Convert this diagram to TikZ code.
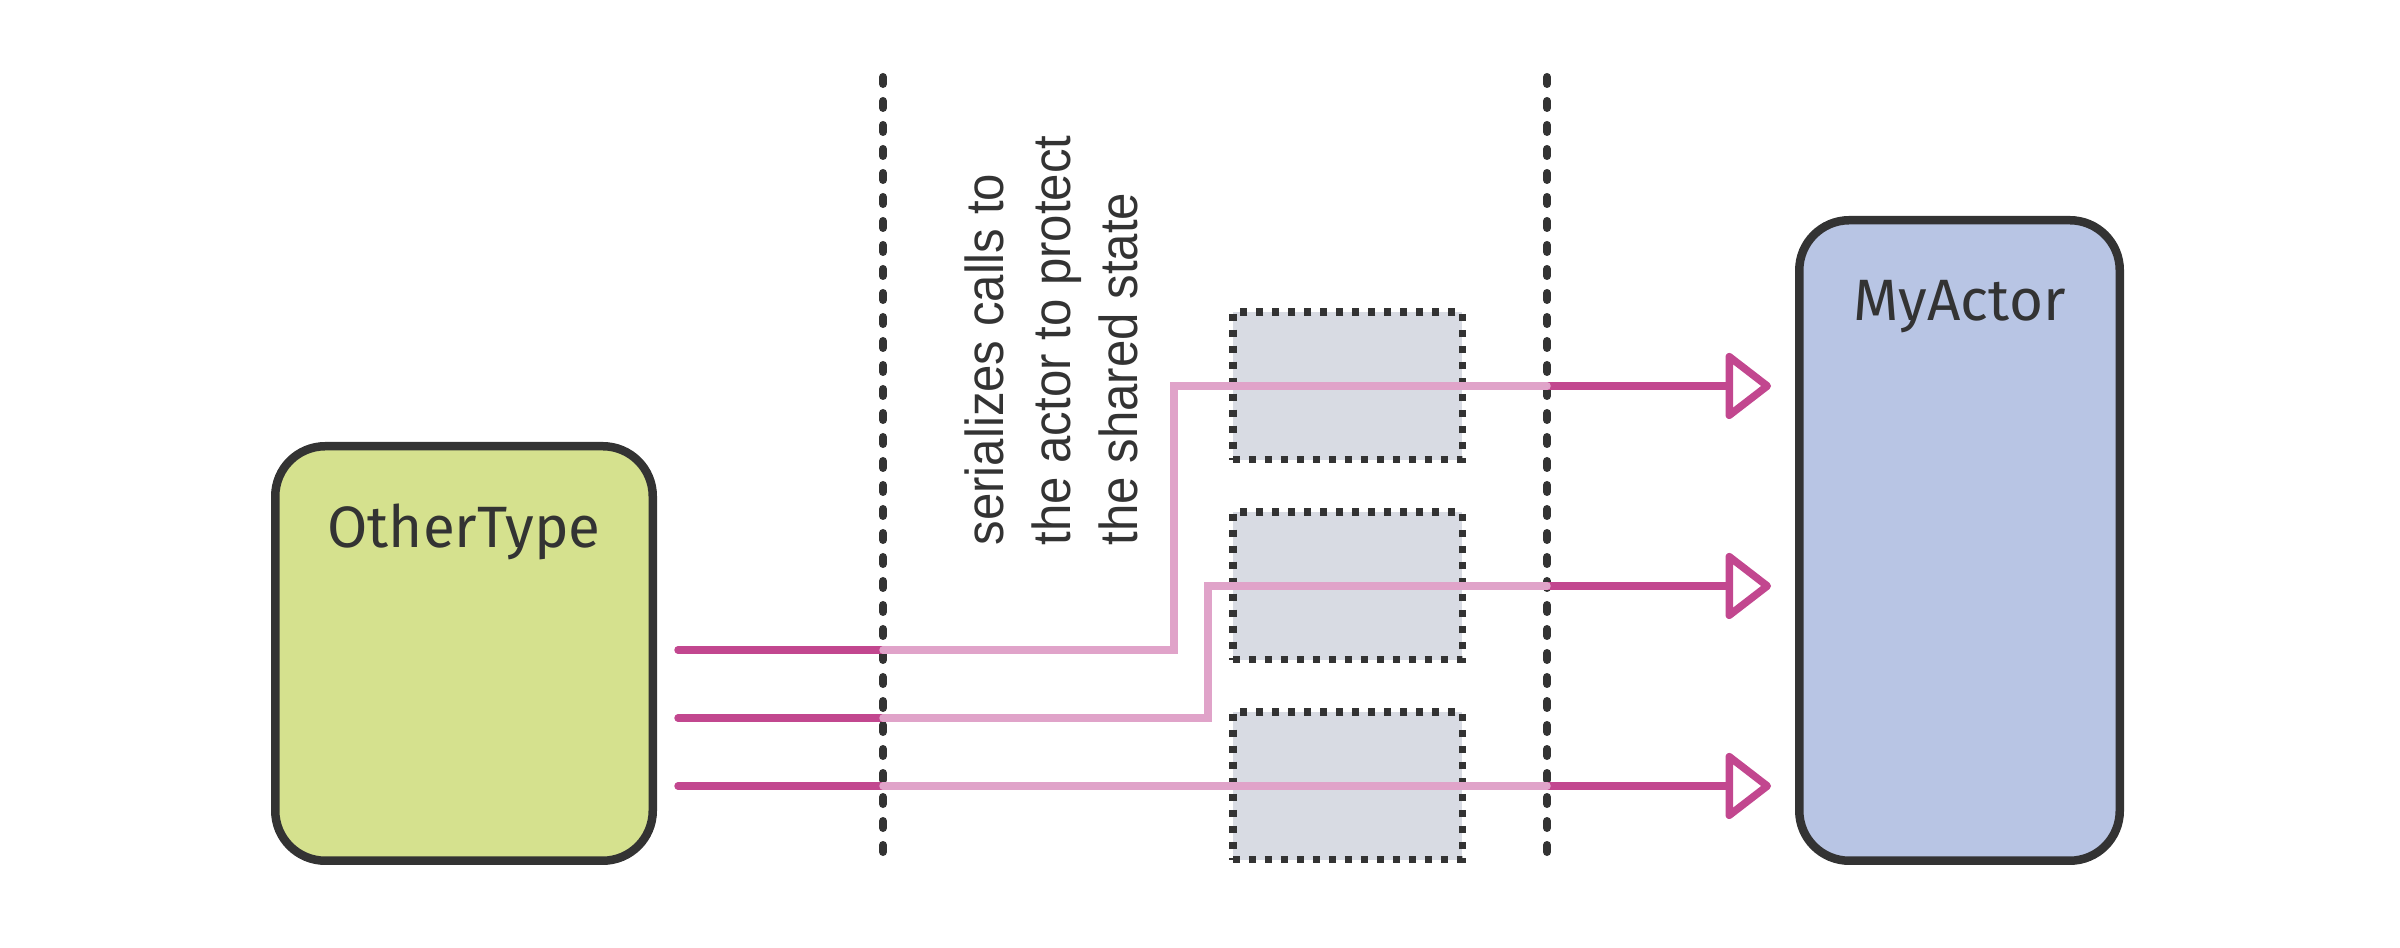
\documentclass[tikz,border=0pt]{standalone}
\usepackage{fontspec}
\setmainfont{Fira Sans}
\newfontfamily\notefont[FakeStretch=0.92]{Liberation Sans}
\usetikzlibrary{arrows.meta, positioning, calc}
\definecolor{ink}{HTML}{333333}
\definecolor{othergreen}{HTML}{D5E18E}
\definecolor{actorblue}{HTML}{B8C5E4}
\definecolor{queuegray}{HTML}{D8DBE3}
\definecolor{callpink}{HTML}{C2478F}
\definecolor{palepink}{HTML}{E0A3C9}
\tikzset{
  typebox/.style={draw=ink,line width=0.085cm,rounded corners=0.5cm,inner sep=0},
  typename/.style={text=ink,font=\fontsize{16.6}{20}\selectfont,inner sep=0},
  slot/.style={draw=ink,fill=queuegray,line width=0.075cm,dash pattern=on 0.07cm off 0.09cm,minimum width=2.295cm,minimum height=1.475cm,inner sep=0},
  wall/.style={draw=ink,line width=0.08cm,line cap=round,dash pattern=on 0.07cm off 0.17cm},
  call/.style={draw=callpink,line width=0.075cm,line cap=round},
  callarrow/.style={call,-{Triangle[open,round,length=0.48cm,width=0.72cm]},shorten >=0.24cm},
  hop/.style={draw=palepink,line width=0.075cm,line cap=round},
  note/.style={text=ink,font=\notefont\fontsize{15.2}{19}\selectfont,rotate=90,anchor=base west,inner sep=0},
}

\begin{document}
\begin{tikzpicture}
	    \useasboundingbox (0,0) rectangle (24,9.48);
	    % the two types
	    \node[typebox,fill=othergreen,minimum width=3.775cm,minimum height=4.145cm] (other) at (4.64,2.945) {};
	    \node[typebox,fill=actorblue,minimum width=3.205cm,minimum height=6.405cm] (actor) at (19.595,4.075) {};
	    \node[typename,below=1.06cm of other.north,anchor=base] (otherName) {OtherType};
	    \node[typename,below=1.05cm of actor.north,anchor=base] (actorName) {MyActor};
	    % queued calls
	    \node[slot] (slot1) at (13.475,5.62) {};
	    \node[slot,below=0.45cm of slot1] (slot2) {};
	    \node[slot,below=0.45cm of slot2] (slot3) {};
	    % isolation boundary
	    \coordinate (leftTop) at (8.83,8.71);
	    \coordinate (leftBot) at (8.83,0.79);
	    \coordinate (rightTop) at (15.47,8.71);
	    \coordinate (rightBot) at (15.47,0.79);
	    \draw[wall] (leftTop) -- (leftBot);
	    \draw[wall] (rightTop) -- (rightBot);
	    \node[note] (note1) at (10.03,4.02) {serializes calls to};
	    \node[note] (note2) at (10.70,4.02) {the actor to protect};
	    \node[note] (note3) at (11.37,4.02) {the shared state};
	    % calls
	    \coordinate (src1) at (6.78,2.98);
	    \coordinate (src2) at (6.78,2.30);
	    \coordinate (src3) at (6.78,1.62);
	    \coordinate (turn1) at (11.74,2.98);
	    \coordinate (turn2) at (12.08,2.30);
	    \draw[call] (src1) -- (src1 -| leftTop);
	    \draw[call] (src2) -- (src2 -| leftTop);
	    \draw[call] (src3) -- (src3 -| leftTop);
	    \draw[callarrow] (slot1 -| rightTop) -- (slot1 -| actor.west);
	    \draw[callarrow] (slot2 -| rightTop) -- (slot2 -| actor.west);
	    \draw[callarrow] (slot3 -| rightTop) -- (slot3 -| actor.west);
	    \draw[hop] (src1 -| leftTop) -- (turn1) |- (slot1 -| rightTop);
	    \draw[hop] (src2 -| leftTop) -- (turn2) |- (slot2 -| rightTop);
	    \draw[hop] (src3 -| leftTop) -- (slot3 -| rightTop);
	\end{tikzpicture}
\end{document}
